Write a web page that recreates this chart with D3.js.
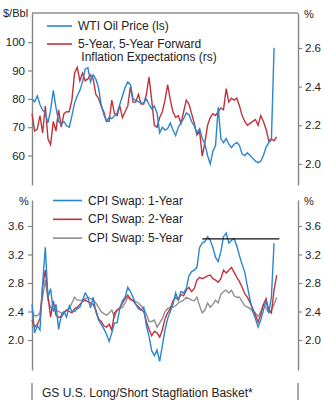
<!DOCTYPE html>
<html>
<head>
<meta charset="utf-8">
<script src="https://cdn.jsdelivr.net/npm/d3@7"></script>
<style>
  body { margin: 0; background: #fff; }
  text { font-family: "Liberation Sans", Arial, sans-serif; fill: #222; }
</style>
</head>
<body>
<svg id="chart" width="324" height="400"></svg>
<script>
// top panel: WTI (ls) and 5y5y forward inflation (rs), one value per step
const wti = [80, 79, 81, 78, 76, 75, 71.5, 76, 83, 77, 72, 71, 72, 70.5, 70, 74, 78.5, 81, 83, 86,
  90.5, 91, 86, 88.5, 87, 84, 78, 74.5, 72, 73.5, 73, 74, 75, 78, 81, 84, 86, 85, 80, 79.5,
  79, 78.5, 78.5, 80, 78, 76.5, 77.5, 75, 68, 70, 69, 69.5, 71.5, 69, 67, 70, 71.5, 73, 75, 74.5,
  72, 70.5, 68, 69.5, 66, 64, 60, 57, 61.5, 63.5, 77, 66, 64.5, 66, 64, 62.8, 64, 64.6, 63.5, 60.5,
  60, 61, 60, 59, 58, 57.5, 58, 60, 63, 64.5, 65.5, 98];
const fiveYFiveY = [2.26, 2.17, 2.18, 2.25, 2.16, 2.3, 2.13, 2.1, 2.22, 2.17, 2.28, 2.19, 2.26, 2.27, 2.27, 2.33, 2.47, 2.5, 2.43, 2.47,
  2.43, 2.44, 2.46, 2.44, 2.36, 2.34, 2.3, 2.27, 2.22, 2.22, 2.33, 2.26, 2.25, 2.3, 2.24, 2.27, 2.3, 2.4, 2.32, 2.32,
  2.36, 2.31, 2.31, 2.36, 2.45, 2.33, 2.2, 2.19, 2.24, 2.27, 2.33, 2.41, 2.33, 2.27, 2.24, 2.25, 2.21, 2.27, 2.33, 2.31,
  2.26, 2.21, 2.15, 2.17, 2.04, 2.11, 2.2, 2.24, 2.26, 2.25, 2.27, 2.29, 2.28, 2.39, 2.32, 2.34, 2.33, 2.34, 2.3, 2.25,
  2.22, 2.2, 2.21, 2.22, 2.23, 2.2, 2.25, 2.22, 2.18, 2.12, 2.13, 2.12, 2.14];

// bottom panel: CPI swaps
const swap1y = [2.5, 2.1, 2.2, 2.14, 2.8, 3.3, 2.6, 2.72, 2.4, 2.5, 2.15, 2.35, 2.4, 2.32, 2.48, 2.4, 2.4, 2.44, 2.46, 2.56,
  2.66, 2.6, 2.45, 2.6, 2.4, 2.28, 2.22, 2.16, 2.08, 1.98, 2.1, 2.24, 2.24, 2.44, 2.55, 2.6, 2.74, 2.68, 2.6, 2.5,
  2.44, 2.42, 2.46, 2.2, 2.05, 1.85, 1.78, 1.86, 1.7, 1.92, 2.14, 2.3, 2.4, 2.5, 2.66, 2.56, 2.68, 2.66, 2.72, 2.9,
  2.96, 2.98, 3.02, 3.3, 3.36, 3.38, 3.45, 3.4, 3.3, 3.16, 3.1, 3.24, 3.45, 3.5, 3.36, 3.4, 3.42, 3.32, 3.18, 3.06,
  2.95, 2.75, 2.56, 2.4, 2.3, 2.18, 2.28, 2.42, 2.55, 2.38, 2.6, 3.36];
const swap2y = [2.28, 2.18, 2.22, 2.3, 2.75, 2.98, 2.62, 2.32, 2.55, 2.35, 2.32, 2.32, 2.38, 2.42, 2.4, 2.38, 2.44, 2.46, 2.5, 2.54,
  2.56, 2.54, 2.52, 2.5, 2.42, 2.3, 2.26, 2.2, 2.18, 2.22, 2.14, 2.38, 2.42, 2.45, 2.52, 2.58, 2.63, 2.58, 2.55, 2.5,
  2.47, 2.42, 2.4, 2.26, 2.15, 2.06, 2.12, 2.1, 2.04, 2.14, 2.3, 2.38, 2.44, 2.55, 2.6, 2.56, 2.64, 2.62, 2.7, 2.74,
  2.68, 2.72, 2.84, 2.88, 2.86, 2.88, 2.9, 2.91, 2.86, 2.84, 2.81, 2.86, 2.98, 2.94, 2.98, 3.02, 2.95, 2.88, 2.82, 2.74,
  2.65, 2.6, 2.52, 2.44, 2.35, 2.25, 2.36, 2.5, 2.58, 2.42, 2.38, 2.7, 2.91];
const swap5y = [2.42, 2.34, 2.34, 2.38, 2.6, 2.84, 2.56, 2.46, 2.44, 2.42, 2.4, 2.38, 2.38, 2.42, 2.44, 2.52, 2.6, 2.56, 2.56, 2.56,
  2.58, 2.6, 2.58, 2.56, 2.52, 2.46, 2.4, 2.37, 2.35, 2.38, 2.42, 2.32, 2.42, 2.44, 2.46, 2.52, 2.6, 2.56, 2.56, 2.54,
  2.52, 2.48, 2.44, 2.36, 2.26, 2.26, 2.28, 2.18, 2.24, 2.3, 2.4, 2.44, 2.46, 2.46, 2.48, 2.52, 2.54, 2.56, 2.6, 2.58,
  2.56, 2.55, 2.6, 2.48, 2.38, 2.42, 2.52, 2.46, 2.5, 2.56, 2.52, 2.64, 2.68, 2.7, 2.66, 2.7, 2.62, 2.6, 2.6, 2.54,
  2.48, 2.46, 2.44, 2.4, 2.38, 2.33, 2.4, 2.5, 2.45, 2.38, 2.42, 2.5, 2.6];

// horizontal reference on the 1y swap
const refLevel = 3.42;
const refSpan = [64, 93];

const wtiTicks = [60, 70, 80, 90, 100];
const inflTicks = [2.0, 2.2, 2.4, 2.6];
const swapTicks = [2.0, 2.4, 2.8, 3.2, 3.6];

const topLegend = [
  { lines: ["WTI Oil Price (ls)"], color: "#2a86cf" },
  { lines: ["5-Year, 5-Year Forward", " Inflation Expectations (rs)"], color: "#c0333d" },
];
const bottomLegend = [
  { label: "CPI Swap: 1-Year", color: "#2a86cf" },
  { label: "CPI Swap: 2-Year", color: "#c0333d" },
  { label: "CPI Swap: 5-Year", color: "#8f8f8f" },
];
const basketTitle = "GS U.S. Long/Short Stagflation Basket*";

const svg = d3.select("#chart");
const left = 32, right = 298;
const axisColor = "#858585";

const x = d3.scaleLinear().domain([0, 100]).range([left, right]);

const yWti = d3.scaleLinear().domain([49.6, 110.3]).range([185, 13]);
const yInfl = d3.scaleLinear().domain([1.891, 2.781]).range([185, 13]);
const ySwap = d3.scaleLinear().domain([1.579, 3.965]).range([370, 200]);

function drawAxis(g, axis) {
  g.call(axis);
  g.selectAll(".domain").attr("stroke", axisColor).attr("stroke-width", 1.4);
  g.selectAll(".tick line").attr("stroke", axisColor).attr("stroke-width", 1.2);
  g.selectAll(".tick text").attr("font-size", 11.5).attr("fill", "#333");
}

function line(ys) {
  return d3.line().x((d, i) => x(i)).y((d) => ys(d));
}

// ---- top panel
svg.append("line")
  .attr("x1", left).attr("x2", right).attr("y1", 13).attr("y2", 13)
  .attr("stroke", "#555").attr("stroke-width", 1);

drawAxis(svg.append("g").attr("transform", `translate(${left},0)`),
  d3.axisLeft(yWti).tickValues(wtiTicks).tickSize(4).tickPadding(3).tickSizeOuter(0));
drawAxis(svg.append("g").attr("transform", `translate(${right},0)`),
  d3.axisRight(yInfl).tickValues(inflTicks).tickFormat(d3.format(".1f")).tickSize(4).tickPadding(3).tickSizeOuter(0));

svg.append("text").attr("x", 3).attr("y", 17).attr("font-size", 11).text("$/Bbl");
svg.append("text").attr("x", 304).attr("y", 18).attr("font-size", 11).text("%");

svg.append("path").datum(fiveYFiveY)
  .attr("d", line(yInfl))
  .attr("fill", "none").attr("stroke", "#c0333d").attr("stroke-width", 1.4);
svg.append("path").datum(wti)
  .attr("d", line(yWti))
  .attr("fill", "none").attr("stroke", "#2a86cf").attr("stroke-width", 1.4);

const tl = svg.append("g").selectAll("g").data(topLegend).enter().append("g")
  .attr("transform", (d, i) => `translate(47,${26 + i * 18})`);
tl.append("line").attr("x1", 0).attr("x2", 25)
  .attr("stroke", (d) => d.color).attr("stroke-width", 1.6);
tl.append("text").attr("x", 31).attr("font-size", 12)
  .attr("dominant-baseline", "central")
  .selectAll("tspan").data((d) => d.lines).enter().append("tspan")
  .attr("x", 31).attr("dy", (d, i) => (i ? 13 : 0))
  .attr("xml:space", "preserve")
  .text((d) => d);

// ---- bottom panel
drawAxis(svg.append("g").attr("transform", `translate(${left},0)`),
  d3.axisLeft(ySwap).tickValues(swapTicks).tickFormat(d3.format(".1f")).tickSize(4).tickPadding(4).tickSizeOuter(0));
drawAxis(svg.append("g").attr("transform", `translate(${right},0)`),
  d3.axisRight(ySwap).tickValues(swapTicks).tickFormat(d3.format(".1f")).tickSize(4).tickPadding(3).tickSizeOuter(0));

svg.append("text").attr("x", 19).attr("y", 205).attr("font-size", 11).text("%");
svg.append("text").attr("x", 304).attr("y", 205).attr("font-size", 11).text("%");

[[swap5y, "#8f8f8f"], [swap2y, "#c0333d"], [swap1y, "#2a86cf"]].forEach(([s, c]) => {
  svg.append("path").datum(s)
    .attr("d", line(ySwap))
    .attr("fill", "none").attr("stroke", c).attr("stroke-width", 1.4);
});

svg.append("line")
  .attr("x1", x(refSpan[0])).attr("x2", x(refSpan[1]))
  .attr("y1", ySwap(refLevel)).attr("y2", ySwap(refLevel))
  .attr("stroke", "#111").attr("stroke-width", 1.4);

const bl = svg.append("g").selectAll("g").data(bottomLegend).enter().append("g")
  .attr("transform", (d, i) => `translate(53,${200.5 + i * 18.8})`);
bl.append("line").attr("x1", 0).attr("x2", 29)
  .attr("stroke", (d) => d.color).attr("stroke-width", 1.6);
bl.append("text").attr("x", 35).attr("font-size", 12)
  .attr("dominant-baseline", "central").text((d) => d.label);

// ---- third panel (cut off)
[left, right].forEach((px) => {
  svg.append("line").attr("x1", px).attr("x2", px).attr("y1", 383).attr("y2", 400)
    .attr("stroke", axisColor).attr("stroke-width", 1.4);
});
svg.append("text").attr("x", 42).attr("y", 393).attr("font-size", 12)
  .attr("dominant-baseline", "central").text(basketTitle);
</script>
</body>
</html>
